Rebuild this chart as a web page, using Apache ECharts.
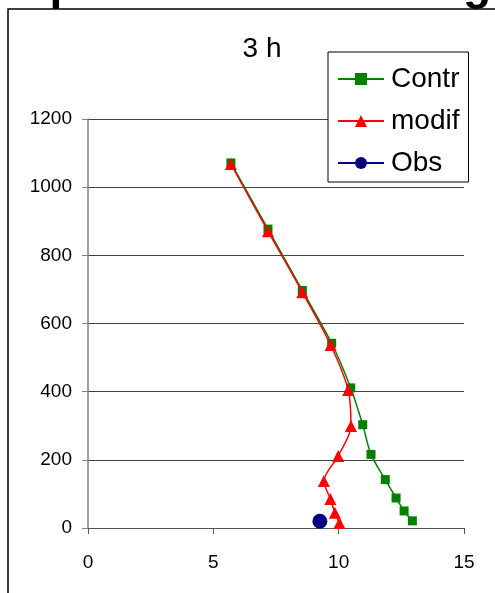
<!DOCTYPE html>
<html>
<head>
<meta charset="utf-8">
<script src="https://cdn.jsdelivr.net/npm/echarts@6/dist/echarts.min.js"></script>
<style>
html,body{margin:0;padding:0;background:#fff;}
#c{width:495px;height:593px;}
</style>
</head>
<body>
<div id="c"></div>
<script>
var title = '3 h';
var seriesNames = ['Contr', 'modif', 'Obs'];
var xTicks = [0, 5, 10, 15];
var yTicks = [0, 200, 400, 600, 800, 1000, 1200];
var contrX = [5.70, 7.18, 8.55, 9.72, 10.48, 10.96, 11.29, 11.86, 12.29, 12.61, 12.94];
var contrY = [1071, 877, 697, 542, 411, 303, 216, 142, 88, 50, 21];
var modifX = [5.70, 7.18, 8.55, 9.68, 10.38, 10.49, 9.98, 9.41, 9.67, 9.85, 10.03];
var modifY = [1068, 871, 692, 537, 405, 299, 211, 138, 85, 45, 15];
var obsX = [9.25];
var obsY = [20];

function pairs(xs, ys) { return xs.map(function (x, i) { return [x, ys[i]]; }); }

var font = 'Liberation Sans, Arial, sans-serif';
var chart = echarts.init(document.getElementById('c'), null, {renderer: 'canvas'});
chart.setOption({
  animation: false,
  backgroundColor: '#fff',
  title: {
    text: title, left: 257, top: 30, textAlign: 'center',
    textStyle: {fontFamily: font, fontSize: 28, fontWeight: 'normal', color: '#000'}
  },
  graphic: [
    {type: 'rect', shape: {x: 8, y: 9, width: 700, height: 800}, style: {fill: 'none', stroke: '#000', lineWidth: 1.5}, z: 100},
    {type: 'text', x: 49.5, y: 0, style: {text: 'p', font: 'bold 46px ' + font, fill: '#000', verticalAlign: 'bottom', y: 9}, z: 99},
    {type: 'text', x: 463, y: 0, style: {text: 'g', font: 'bold 46px ' + font, fill: '#000', verticalAlign: 'bottom', y: 9}, z: 99}
  ],
  legend: {
    orient: 'vertical', left: 328, top: 52,
    data: seriesNames,
    itemWidth: 46, itemHeight: 15, itemGap: 12,
    padding: [12, 9, 4, 9],
    borderColor: '#000', borderWidth: 1, backgroundColor: '#fff',
    textStyle: {fontFamily: font, fontSize: 28, color: '#000', lineHeight: 30, padding: [0, 0, 0, 2]}
  },
  grid: {left: 88, right: 31, top: 119, bottom: 65, containLabel: false},
  xAxis: {
    type: 'value', min: 0, max: 15, interval: 5,
    axisLine: {show: true, onZero: false, lineStyle: {color: '#555', width: 1}},
    axisTick: {show: true, inside: false, length: 6, lineStyle: {color: '#555'}},
    axisLabel: {margin: 25, fontFamily: font, fontSize: 19, color: '#000',
      formatter: function (v) { return xTicks.indexOf(v) >= 0 ? String(v) : ''; }},
    splitLine: {show: false}
  },
  yAxis: {
    type: 'value', min: 0, max: 1200, interval: 200,
    axisLine: {show: true, onZero: false, lineStyle: {color: '#808080', width: 1.5}},
    axisTick: {show: true, inside: false, length: 6, lineStyle: {color: '#808080'}},
    axisLabel: {margin: 16, fontFamily: font, fontSize: 19, color: '#000',
      formatter: function (v) { return yTicks.indexOf(v) >= 0 ? String(v) : ''; }},
    splitLine: {show: true, lineStyle: {color: '#444', width: 1}}
  },
  series: [
    {name: 'Contr', type: 'line', data: pairs(contrX, contrY), smooth: 0.3,
      symbol: 'rect', symbolSize: 9,
      lineStyle: {color: '#008000', width: 1.5}, itemStyle: {color: '#008000'}, z: 3},
    {name: 'modif', type: 'line', data: pairs(modifX, modifY), smooth: 0.3,
      symbol: 'triangle', symbolSize: 12,
      lineStyle: {color: '#ff0000', width: 1.5}, itemStyle: {color: '#ff0000'}, z: 4},
    {name: 'Obs', type: 'line', data: pairs(obsX, obsY),
      symbol: 'circle', symbolSize: 15,
      lineStyle: {color: '#000080', width: 1.5}, itemStyle: {color: '#000080'}, z: 5}
  ]
});
</script>
</body>
</html>
